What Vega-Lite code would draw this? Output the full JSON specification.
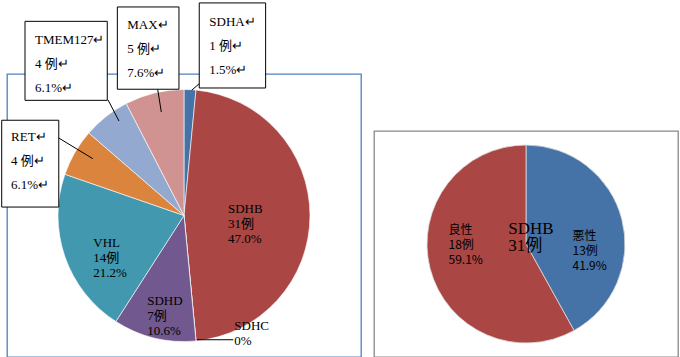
{
  "$schema": "https://vega.github.io/schema/vega-lite/v6.json",
  "padding": {"left": 0, "top": 1, "right": 0, "bottom": 0},
  "spacing": 11,
  "background": "white",
  "config": {
    "view": {"stroke": null},
    "text": {"font": "Liberation Serif, Noto Sans CJK JP", "fontSize": 13, "color": "black"}
  },
  "hconcat": [
    {
      "width": 354,
      "height": 283,
      "view": {"stroke": "#4F81BD", "strokeWidth": 1.3},
      "data": {"values": [
        {"gene": "SDHA", "count": 1, "rank": 1, "pct": 1.5, "label": ["SDHA↵", "1 例↵", "1.5%↵"]},
        {"gene": "SDHB", "count": 31, "rank": 2, "pct": 47.0, "label": ["SDHB", "31例", "47.0%"]},
        {"gene": "SDHC", "count": 0, "rank": 3, "pct": 0, "label": ["SDHC", "0%"]},
        {"gene": "SDHD", "count": 7, "rank": 4, "pct": 10.6, "label": ["SDHD", "7例", "10.6%"]},
        {"gene": "VHL", "count": 14, "rank": 5, "pct": 21.2, "label": ["VHL", "14例", "21.2%"]},
        {"gene": "RET", "count": 4, "rank": 6, "pct": 6.1, "label": ["RET↵", "4 例↵", "6.1%↵"]},
        {"gene": "TMEM127", "count": 4, "rank": 7, "pct": 6.1, "label": ["TMEM127↵", "4 例↵", "6.1%↵"]},
        {"gene": "MAX", "count": 5, "rank": 8, "pct": 7.6, "label": ["MAX↵", "5 例↵", "7.6%↵"]}
      ]},
      "layer": [
        {
          "encoding": {
            "theta": {"field": "count", "type": "quantitative", "stack": true},
            "order": {"field": "rank", "type": "quantitative"}
          },
          "layer": [
            {
              "mark": {"type": "arc", "outerRadius": 126, "stroke": "white", "strokeWidth": 0.6},
              "encoding": {
                "color": {"field": "gene", "type": "nominal", "legend": null,
                  "scale": {"domain": ["SDHA", "SDHB", "SDHC", "SDHD", "VHL", "RET", "TMEM127", "MAX"],
                            "range": ["#4572A7", "#AA4643", "#89A54E", "#71588F", "#4198AF", "#DB843D", "#93A9CF", "#D19392"]}}
              }
            },
            {
              "mark": {"type": "text", "radius": 44, "align": "left", "baseline": "middle", "dy": -7, "lineHeight": 15},
              "encoding": {
                "detail": {"field": "gene"},
                "text": {"condition": {"test": "datum.gene === 'SDHB'", "field": "label"}, "value": ""}
              }
            },
            {
              "mark": {"type": "text", "radius": 88, "align": "left", "baseline": "middle", "dx": -16, "dy": 0, "lineHeight": 15},
              "encoding": {
                "detail": {"field": "gene"},
                "text": {"condition": {"test": "datum.gene === 'SDHD'", "field": "label"}, "value": ""}
              }
            },
            {
              "mark": {"type": "text", "radius": 77.5, "align": "left", "baseline": "middle", "dx": -17.5, "dy": 2, "lineHeight": 15},
              "encoding": {
                "detail": {"field": "gene"},
                "text": {"condition": {"test": "datum.gene === 'VHL'", "field": "label"}, "value": ""}
              }
            }
          ]
        },
        {
          "transform": [{"filter": "datum.gene === 'TMEM127'"}],
          "layer": [
            {"mark": {"type": "rule", "color": "black", "strokeWidth": 1},
             "encoding": {
               "x": {"datum": -60.3, "type": "quantitative", "scale": {"domain": [-140.5, 140.5], "nice": false}, "axis": null},
               "x2": {"datum": -51.6},
               "y": {"datum": 91.7, "type": "quantitative", "scale": {"domain": [-112.3, 112.3], "nice": false}, "axis": null},
               "y2": {"datum": 75.0}}},
            {"mark": {"type": "rect", "fill": "white", "stroke": "black", "strokeWidth": 1},
             "encoding": {
               "x": {"datum": -126.2, "type": "quantitative", "scale": {"domain": [-140.5, 140.5], "nice": false}, "axis": null},
               "x2": {"datum": -60.9},
               "y": {"datum": 154.1, "type": "quantitative", "scale": {"domain": [-112.3, 112.3], "nice": false}, "axis": null},
               "y2": {"datum": 91.4}}},
            {"mark": {"type": "text", "align": "left", "baseline": "alphabetic", "lineHeight": 24},
             "encoding": {
               "x": {"datum": -118.3, "type": "quantitative", "scale": {"domain": [-140.5, 140.5], "nice": false}, "axis": null},
               "y": {"datum": 136.3, "type": "quantitative", "scale": {"domain": [-112.3, 112.3], "nice": false}, "axis": null},
               "text": {"field": "label"}}}
          ]
        },
        {
          "transform": [{"filter": "datum.gene === 'MAX'"}],
          "layer": [
            {"mark": {"type": "rule", "color": "black", "strokeWidth": 1},
             "encoding": {
               "x": {"datum": -20.9, "type": "quantitative", "scale": {"domain": [-140.5, 140.5], "nice": false}, "axis": null},
               "x2": {"datum": -18.0},
               "y": {"datum": 100.2, "type": "quantitative", "scale": {"domain": [-112.3, 112.3], "nice": false}, "axis": null},
               "y2": {"datum": 82.1}}},
            {"mark": {"type": "rect", "fill": "white", "stroke": "black", "strokeWidth": 1},
             "encoding": {
               "x": {"datum": -52.9, "type": "quantitative", "scale": {"domain": [-140.5, 140.5], "nice": false}, "axis": null},
               "x2": {"datum": -4.0},
               "y": {"datum": 165.5, "type": "quantitative", "scale": {"domain": [-112.3, 112.3], "nice": false}, "axis": null},
               "y2": {"datum": 100.2}}},
            {"mark": {"type": "text", "align": "left", "baseline": "alphabetic", "lineHeight": 24},
             "encoding": {
               "x": {"datum": -45.0, "type": "quantitative", "scale": {"domain": [-140.5, 140.5], "nice": false}, "axis": null},
               "y": {"datum": 148.3, "type": "quantitative", "scale": {"domain": [-112.3, 112.3], "nice": false}, "axis": null},
               "text": {"field": "label"}}}
          ]
        },
        {
          "transform": [{"filter": "datum.gene === 'SDHA'"}],
          "layer": [
            {"mark": {"type": "rule", "color": "black", "strokeWidth": 1},
             "encoding": {
               "x": {"datum": 12.1, "type": "quantitative", "scale": {"domain": [-140.5, 140.5], "nice": false}, "axis": null},
               "x2": {"datum": 6.1},
               "y": {"datum": 104.6, "type": "quantitative", "scale": {"domain": [-112.3, 112.3], "nice": false}, "axis": null},
               "y2": {"datum": 99.4}}},
            {"mark": {"type": "rect", "fill": "white", "stroke": "black", "strokeWidth": 1},
             "encoding": {
               "x": {"datum": 12.1, "type": "quantitative", "scale": {"domain": [-140.5, 140.5], "nice": false}, "axis": null},
               "x2": {"datum": 64.8},
               "y": {"datum": 168.7, "type": "quantitative", "scale": {"domain": [-112.3, 112.3], "nice": false}, "axis": null},
               "y2": {"datum": 101.2}}},
            {"mark": {"type": "text", "align": "left", "baseline": "alphabetic", "lineHeight": 24},
             "encoding": {
               "x": {"datum": 20.1, "type": "quantitative", "scale": {"domain": [-140.5, 140.5], "nice": false}, "axis": null},
               "y": {"datum": 150.4, "type": "quantitative", "scale": {"domain": [-112.3, 112.3], "nice": false}, "axis": null},
               "text": {"field": "label"}}}
          ]
        },
        {
          "transform": [{"filter": "datum.gene === 'RET'"}],
          "layer": [
            {"mark": {"type": "rule", "color": "black", "strokeWidth": 1},
             "encoding": {
               "x": {"datum": -99.4, "type": "quantitative", "scale": {"domain": [-140.5, 140.5], "nice": false}, "axis": null},
               "x2": {"datum": -72.4},
               "y": {"datum": 61.5, "type": "quantitative", "scale": {"domain": [-112.3, 112.3], "nice": false}, "axis": null},
               "y2": {"datum": 45.1}}},
            {"mark": {"type": "rect", "fill": "white", "stroke": "black", "strokeWidth": 1},
             "encoding": {
               "x": {"datum": -144.7, "type": "quantitative", "scale": {"domain": [-140.5, 140.5], "nice": false}, "axis": null},
               "x2": {"datum": -99.4},
               "y": {"datum": 75.6, "type": "quantitative", "scale": {"domain": [-112.3, 112.3], "nice": false}, "axis": null},
               "y2": {"datum": 6.7}}},
            {"mark": {"type": "text", "align": "left", "baseline": "alphabetic", "lineHeight": 24},
             "encoding": {
               "x": {"datum": -137.3, "type": "quantitative", "scale": {"domain": [-140.5, 140.5], "nice": false}, "axis": null},
               "y": {"datum": 58.9, "type": "quantitative", "scale": {"domain": [-112.3, 112.3], "nice": false}, "axis": null},
               "text": {"field": "label"}}}
          ]
        },
        {
          "transform": [{"filter": "datum.gene === 'SDHC'"}],
          "layer": [
            {"mark": {"type": "rule", "color": "black", "strokeWidth": 1},
             "encoding": {
               "x": {"datum": 10.1, "type": "quantitative", "scale": {"domain": [-140.5, 140.5], "nice": false}, "axis": null},
               "x2": {"datum": 39.1},
               "y": {"datum": -98.6, "type": "quantitative", "scale": {"domain": [-112.3, 112.3], "nice": false}, "axis": null},
               "y2": {"datum": -98.6}}},
            {"mark": {"type": "text", "align": "left", "baseline": "alphabetic", "lineHeight": 15},
             "encoding": {
               "x": {"datum": 39.9, "type": "quantitative", "scale": {"domain": [-140.5, 140.5], "nice": false}, "axis": null},
               "y": {"datum": -90.9, "type": "quantitative", "scale": {"domain": [-112.3, 112.3], "nice": false}, "axis": null},
               "text": {"field": "label"}}}
          ]
        }
      ]
    },
    {
      "spacing": 0,
      "vconcat": [
        {
          "width": 304,
          "height": 56,
          "view": {"fill": "white", "stroke": null},
          "data": {"values": [{"note": ""}]},
          "mark": {"type": "text"},
          "encoding": {"text": {"field": "note"}}
        },
        {
          "width": 304,
          "height": 226,
          "view": {"stroke": "#888888", "strokeWidth": 1.3},
          "data": {"values": [
            {"type": "悪性", "count": 13, "rank": 1, "pct": 41.9, "label": ["悪性", "13例", "41.9%"]},
            {"type": "良性", "count": 18, "rank": 2, "pct": 59.1, "label": ["良性", "18例", "59.1%"]}
          ]},
          "layer": [
            {
              "mark": {"type": "arc", "outerRadius": 99, "stroke": "#dddddd", "strokeWidth": 0.8},
              "encoding": {
                "theta": {"field": "count", "type": "quantitative", "stack": true},
                "order": {"field": "rank", "type": "quantitative"},
                "color": {"field": "type", "type": "nominal", "legend": null,
                  "scale": {"domain": ["悪性", "良性"], "range": ["#4F81BD", "#C0504D"]}}
              }
            },
            {
              "mark": {"type": "text", "radius": 48, "align": "left", "baseline": "middle", "dy": 4.4, "lineHeight": 15, "font": "Noto Sans CJK JP", "fontSize": 12},
              "encoding": {
                "theta": {"field": "count", "type": "quantitative", "stack": true},
                "order": {"field": "rank", "type": "quantitative"},
                "detail": {"field": "type"},
                "text": {"condition": {"test": "datum.type === '悪性'", "field": "label"}, "value": ""}
              }
            },
            {
              "mark": {"type": "text", "radius": 80, "align": "left", "baseline": "middle", "dy": -34.2, "lineHeight": 15, "font": "Noto Sans CJK JP", "fontSize": 12},
              "encoding": {
                "theta": {"field": "count", "type": "quantitative", "stack": true},
                "order": {"field": "rank", "type": "quantitative"},
                "detail": {"field": "type"},
                "text": {"condition": {"test": "datum.type === '良性'", "field": "label"}, "value": ""}
              }
            },
            {
              "data": {"values": [{"gene": "SDHB", "count": 31, "label": ["SDHB", "31例"]}]},
              "mark": {"type": "text", "align": "left", "baseline": "alphabetic", "dx": -17.7, "dy": -10.3, "lineHeight": 17.6, "fontSize": 17},
              "encoding": {"text": {"field": "label"}}
            }
          ]
        }
      ]
    }
  ]
}
